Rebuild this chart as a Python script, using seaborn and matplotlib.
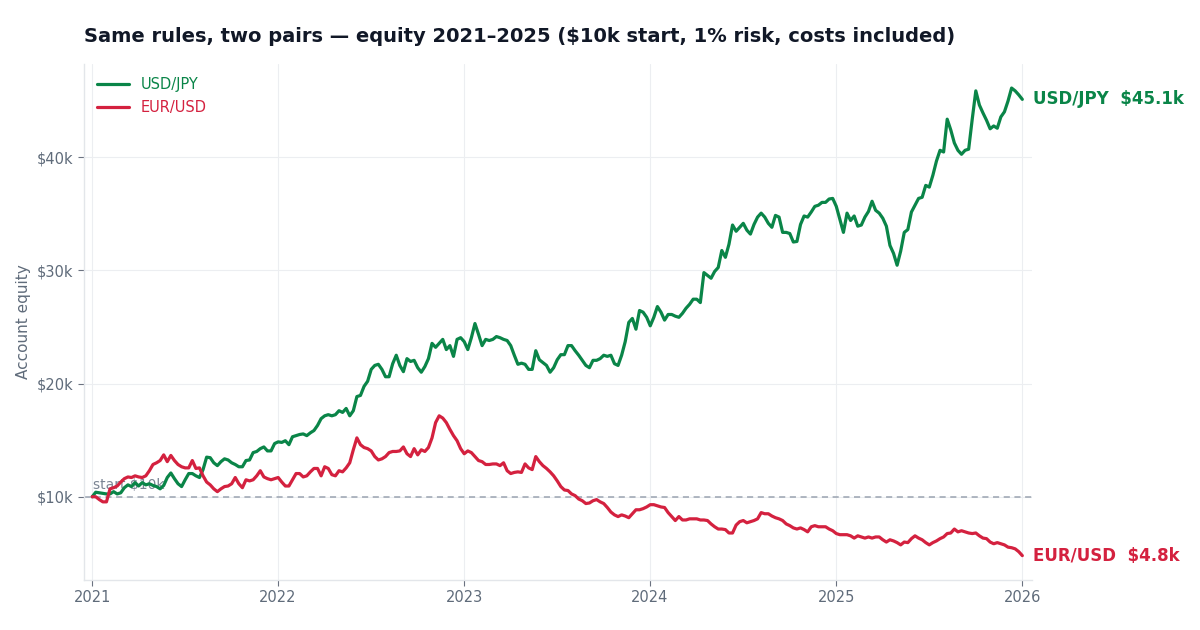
import pandas as pd
import numpy as np
import matplotlib
matplotlib.use("Agg")
import matplotlib.pyplot as plt
import matplotlib.dates as mdates
from matplotlib.ticker import FuncFormatter
import seaborn as sns

# weekly account equity, in $k (2021-01 .. 2026-01)
usdjpy_k = [
    10.0, 10.4, 10.35, 10.3, 10.25, 10.25, 10.45, 10.25, 10.35, 10.8,
    11.05, 10.9, 11.25, 10.95, 11.25, 11.05, 11.15, 11.0, 10.9, 10.7,
    11.0, 11.7, 12.1, 11.6, 11.15, 10.9, 11.5, 12.05, 12.05, 11.85,
    11.7, 12.4, 13.5, 13.45, 13.0, 12.75, 13.1, 13.35, 13.25, 13.0,
    12.85, 12.65, 12.65, 13.2, 13.25, 13.9, 14.0, 14.25, 14.4, 14.05,
    14.05, 14.7, 14.85, 14.8, 14.95, 14.6, 15.3, 15.4, 15.5, 15.55,
    15.4, 15.65, 15.85, 16.3, 16.9, 17.15, 17.25, 17.15, 17.25, 17.6,
    17.45, 17.8, 17.15, 17.6, 18.85, 18.95, 19.75, 20.2, 21.25, 21.6,
    21.7, 21.25, 20.6, 20.6, 21.75, 22.5, 21.6, 21.05, 22.2, 21.95,
    22.05, 21.4, 21.0, 21.5, 22.2, 23.55, 23.2, 23.55, 23.9, 23.0,
    23.35, 22.4, 23.9, 24.05, 23.7, 23.0, 24.05, 25.3, 24.35, 23.35,
    23.9, 23.8, 23.9, 24.15, 24.05, 23.9, 23.8, 23.35, 22.5, 21.7,
    21.8, 21.7, 21.25, 21.25, 22.9, 22.1, 21.85, 21.6, 21.0, 21.4,
    22.1, 22.55, 22.55, 23.35, 23.35, 22.9, 22.5, 22.05, 21.6, 21.4,
    22.05, 22.05, 22.2, 22.5, 22.4, 22.5, 21.75, 21.6, 22.5, 23.7,
    25.4, 25.75, 24.8, 26.45, 26.3, 25.85, 25.1, 25.85, 26.8, 26.3,
    25.6, 26.1, 26.1, 25.95, 25.85, 26.2, 26.65, 27.0, 27.45, 27.45,
    27.15, 29.8, 29.55, 29.3, 29.9, 30.25, 31.75, 31.15, 32.3, 34.0,
    33.45, 33.8, 34.15, 33.55, 33.2, 34.05, 34.7, 35.05, 34.7, 34.15,
    33.8, 34.85, 34.7, 33.35, 33.35, 33.25, 32.5, 32.55, 34.05, 34.8,
    34.7, 35.15, 35.65, 35.75, 36.0, 36.0, 36.3, 36.35, 35.65, 34.5,
    33.35, 35.05, 34.4, 34.8, 33.9, 34.0, 34.7, 35.2, 36.1, 35.3,
    35.05, 34.6, 33.9, 32.2, 31.5, 30.45, 31.7, 33.35, 33.6, 35.15,
    35.75, 36.35, 36.45, 37.5, 37.35, 38.4, 39.65, 40.6, 40.45, 43.35,
    42.4, 41.25, 40.6, 40.25, 40.6, 40.7, 43.35, 45.85, 44.6, 43.9,
    43.25, 42.5, 42.75, 42.55, 43.55, 44.0, 44.95, 46.1, 45.85, 45.5,
    45.1,
]

eurusd_k = [
    10.0, 10.0, 9.75, 9.55, 9.55, 10.7, 10.8, 10.95, 11.3, 11.6,
    11.75, 11.7, 11.85, 11.75, 11.7, 11.85, 12.3, 12.85, 13.0, 13.2,
    13.7, 13.1, 13.65, 13.2, 12.85, 12.65, 12.55, 12.55, 13.2, 12.5,
    12.55, 11.85, 11.3, 11.05, 10.7, 10.45, 10.7, 10.9, 10.95, 11.15,
    11.7, 11.15, 10.8, 11.5, 11.4, 11.5, 11.85, 12.3, 11.75, 11.6,
    11.5, 11.6, 11.7, 11.3, 10.95, 10.95, 11.5, 12.05, 12.05, 11.75,
    11.85, 12.2, 12.5, 12.5, 11.85, 12.65, 12.5, 11.95, 11.85, 12.3,
    12.2, 12.55, 13.0, 14.15, 15.2, 14.6, 14.35, 14.25, 14.05, 13.55,
    13.25, 13.35, 13.55, 13.9, 14.0, 14.0, 14.05, 14.4, 13.8, 13.55,
    14.25, 13.7, 14.15, 14.0, 14.35, 15.2, 16.55, 17.15, 16.95, 16.55,
    15.95, 15.4, 14.95, 14.25, 13.8, 14.05, 13.9, 13.55, 13.2, 13.1,
    12.85, 12.85, 12.9, 12.9, 12.75, 13.0, 12.3, 12.05, 12.15, 12.2,
    12.15, 12.9, 12.55, 12.4, 13.55, 13.1, 12.75, 12.5, 12.2, 11.85,
    11.4, 10.9, 10.6, 10.55, 10.25, 10.1, 9.8, 9.65, 9.4, 9.45,
    9.65, 9.75, 9.55, 9.4, 9.05, 8.65, 8.4, 8.25, 8.4, 8.3,
    8.15, 8.5, 8.85, 8.85, 8.95, 9.1, 9.3, 9.3, 9.2, 9.1,
    9.05, 8.6, 8.25, 7.9, 8.25, 7.95, 7.95, 8.05, 8.05, 8.05,
    7.95, 7.95, 7.9, 7.6, 7.35, 7.15, 7.15, 7.1, 6.8, 6.8,
    7.5, 7.8, 7.9, 7.7, 7.8, 7.9, 8.05, 8.6, 8.5, 8.5,
    8.3, 8.15, 8.05, 7.9, 7.6, 7.45, 7.25, 7.15, 7.25, 7.1,
    6.9, 7.35, 7.45, 7.35, 7.35, 7.35, 7.15, 7.0, 6.75, 6.65,
    6.65, 6.65, 6.55, 6.35, 6.55, 6.45, 6.35, 6.45, 6.35, 6.45,
    6.45, 6.2, 6.0, 6.2, 6.1, 5.95, 5.75, 6.0, 5.95, 6.3,
    6.55, 6.35, 6.2, 5.95, 5.75, 5.95, 6.1, 6.3, 6.45, 6.75,
    6.8, 7.15, 6.9, 7.0, 6.9, 6.8, 6.75, 6.8, 6.55, 6.35,
    6.3, 6.0, 5.85, 5.95, 5.85, 5.75, 5.55, 5.5, 5.4, 5.15,
    4.8,
]

pairs = ["USD/JPY", "EUR/USD"]
colors = {"USD/JPY": "#0a8548", "EUR/USD": "#d4213f"}
start_equity = 10000

dates = pd.date_range("2021-01-01", "2026-01-01", periods=len(usdjpy_k))

df = pd.concat([
    pd.DataFrame({"date": dates, "equity": np.array(usdjpy_k) * 1000, "pair": "USD/JPY"}),
    pd.DataFrame({"date": dates, "equity": np.array(eurusd_k) * 1000, "pair": "EUR/USD"}),
])

sns.set_theme(style="whitegrid")
plt.rcParams["font.family"] = ["DejaVu Sans"]

fig = plt.figure(figsize=(12, 6.3), dpi=100)
ax = fig.add_axes([0.07, 0.0794, 0.79, 0.8186])

grey = "#5f6b7a"
ax.axhline(start_equity, color="#9aa3b0", lw=1.1, ls=(0, (4, 3)), zorder=1)
ax.text(pd.Timestamp("2021-01-03"), start_equity + 700, "start $10k", color="#7b8594",
        fontsize=10, zorder=1)

sns.lineplot(data=df, x="date", y="equity", hue="pair", hue_order=pairs,
             palette=colors, lw=2.3, ax=ax, zorder=3)

ax.set_xlim(pd.Timestamp("2020-12-16"), pd.Timestamp("2026-01-20"))
ax.set_ylim(2650, 48200)
ax.xaxis.set_major_locator(mdates.YearLocator())
ax.xaxis.set_major_formatter(mdates.DateFormatter("%Y"))
ax.yaxis.set_major_locator(plt.MultipleLocator(10000))
ax.yaxis.set_major_formatter(FuncFormatter(lambda v, p: f"${v/1000:.0f}k"))

ax.grid(True, color="#eceef1", lw=0.8)
for side in ["top", "right"]:
    ax.spines[side].set_visible(False)
for side in ["left", "bottom"]:
    ax.spines[side].set_color("#e3e6ea")
    ax.spines[side].set_linewidth(1)
ax.tick_params(axis="both", colors=grey, labelsize=10.5, length=4, width=0.8,
               direction="out", left=True, bottom=True)
ax.tick_params(axis="both", color="#6b7280")

ax.set_xlabel("")
ax.set_ylabel("Account equity", color=grey, fontsize=11)

leg = ax.legend(loc="upper left", frameon=False, fontsize=10.5, handlelength=2.2,
                borderaxespad=0.5, labelspacing=0.5)
for txt, pair in zip(leg.get_texts(), pairs):
    txt.set_color(colors[pair])
for line in leg.get_lines():
    line.set_linewidth(2.3)

# end labels
last_date = dates[-1]
ax.annotate(f"USD/JPY  ${usdjpy_k[-1]:.1f}k", xy=(last_date, usdjpy_k[-1] * 1000),
            xytext=(8, 0), textcoords="offset points", va="center",
            color=colors["USD/JPY"], fontsize=12, fontweight="bold", annotation_clip=False)
ax.annotate(f"EUR/USD  ${eurusd_k[-1]:.1f}k", xy=(last_date, eurusd_k[-1] * 1000),
            xytext=(8, 0), textcoords="offset points", va="center",
            color=colors["EUR/USD"], fontsize=12, fontweight="bold", annotation_clip=False)

ax.set_title("Same rules, two pairs \u2014 equity 2021\u20132025 ($10k start, 1% risk, costs included)",
             loc="left", fontsize=14, fontweight="bold", color="#111827", pad=16)

fig.savefig("out.png", dpi=100)
